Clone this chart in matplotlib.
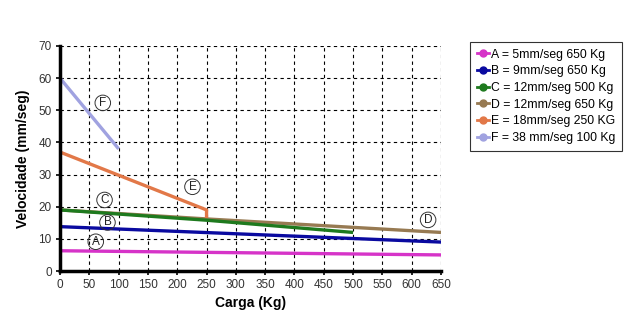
import matplotlib
matplotlib.use("Agg")
import matplotlib.pyplot as plt
from matplotlib.lines import Line2D

plt.rcParams['font.family'] = ['Liberation Sans', 'DejaVu Sans']

# Load (Kg) and speed (mm/seg) curves for each actuator
a_x = [0, 650]
a_y = [6.3, 5.0]
b_x = [0, 650]
b_y = [13.8, 9.0]
c_x = [0, 250, 500]
c_y = [19.0, 15.8, 12.0]
d_x = [0, 250, 650]
d_y = [19.0, 16.2, 12.0]
e_x = [0, 250, 250]
e_y = [37.0, 19.0, 16.5]
f_x = [0, 100]
f_y = [60.0, 38.0]

legend_labels = ["A = 5mm/seg 650 Kg", "B = 9mm/seg 650 Kg", "C = 12mm/seg 500 Kg",
                 "D = 12mm/seg 650 Kg", "E = 18mm/seg 250 KG", "F = 38 mm/seg 100 Kg"]
colors = ["#d633c8", "#0a0aa0", "#1e7a1e", "#977a52", "#e27848", "#a0a2e0"]

tags = ["A", "B", "C", "D", "E", "F"]
tag_x = [61, 81, 76, 628, 226, 73]
tag_y = [9.1, 15.1, 22.1, 15.9, 26.2, 52.3]

x_ticks = list(range(0, 651, 50))
y_ticks = list(range(0, 71, 10))

fig = plt.figure(figsize=(6.3, 3.31), dpi=100)
ax = fig.add_axes([60/630, 1-271/331, 381/630, 225/331])

series = [(a_x, a_y), (b_x, b_y), (c_x, c_y), (d_x, d_y), (e_x, e_y), (f_x, f_y)]
order = [3, 0, 1, 4, 2, 5]
for i in order:
    xs, ys = series[i]
    ax.plot(xs, ys, color=colors[i], lw=2.4, solid_capstyle='butt')

for t, tx, ty in zip(tags, tag_x, tag_y):
    ax.text(tx, ty, t, fontsize=8.5, ha='center', va='center', color='#222222',
            bbox=dict(boxstyle='circle,pad=0.15', fc='none', ec='#333333', lw=0.7))

ax.set_xlim(0, 650)
ax.set_ylim(0, 70)
ax.set_xticks(x_ticks)
ax.set_yticks(y_ticks)
ax.grid(True, color='black', ls=(0, (3, 3)), lw=0.8)
for s in ['top', 'right']:
    ax.spines[s].set_visible(False)
for s in ['left', 'bottom']:
    ax.spines[s].set_linewidth(2.5)
ax.tick_params(labelsize=8.5, labelcolor='#333333', length=3, width=1.2, pad=3)
ax.set_xlabel("Carga (Kg)", fontsize=10, fontweight='bold', labelpad=3)
ax.set_ylabel("Velocidade (mm/seg)", fontsize=10, fontweight='bold', labelpad=6)

leg_handles = [Line2D([0], [0], color=c, lw=2, marker='o', ms=5, markevery=[0])
               for c in colors]
leg = fig.legend(leg_handles, legend_labels, loc='upper left',
                 bbox_to_anchor=(470/630, 1-42/331), borderaxespad=0, fontsize=8.8,
                 handlelength=1.0, handletextpad=0.2, labelspacing=0.38,
                 borderpad=0.55, frameon=True, fancybox=False)
leg.get_frame().set_edgecolor('black')
leg.get_frame().set_linewidth(0.8)

fig.savefig("out.png", dpi=100)
